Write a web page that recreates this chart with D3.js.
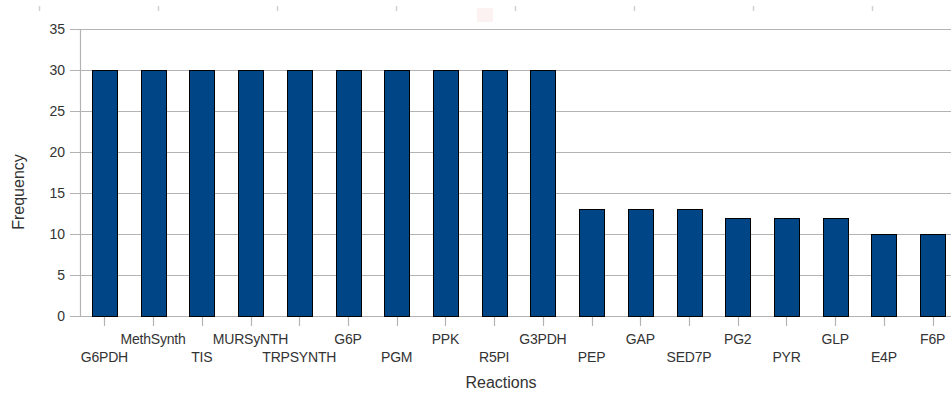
<!DOCTYPE html>
<html>
<head>
<meta charset="utf-8">
<script src="https://cdn.jsdelivr.net/npm/d3@7"></script>
<style>
  body { margin: 0; background: #fff; }
  svg { display: block; font-family: "Liberation Sans", Arial, sans-serif; }
</style>
</head>
<body>
<div id="chart"></div>
<script>
const reactions = ['G6PDH', 'MethSynth', 'TIS', 'MURSyNTH', 'TRPSYNTH', 'G6P', 'PGM', 'PPK', 'R5PI',
  'G3PDH', 'PEP', 'GAP', 'SED7P', 'PG2', 'PYR', 'GLP', 'E4P', 'F6P'];
const frequency = [30, 30, 30, 30, 30, 30, 30, 30, 30, 30, 13, 13, 13, 12, 12, 12, 10, 10];
const yTicks = [0, 5, 10, 15, 20, 25, 30, 35];

const width = 951;
const height = 394;
const margin = { top: 29, right: -6, bottom: 78, left: 80 };

const svg = d3.select('#chart')
  .append('svg')
  .attr('width', width)
  .attr('height', height);

// faint ruler marks along the top edge
svg.append('g')
  .selectAll('line')
  .data(d3.range(8))
  .enter()
  .append('line')
  .attr('x1', (d) => 39.5 + d * 119)
  .attr('x2', (d) => 39.5 + d * 119)
  .attr('y1', 6)
  .attr('y2', 11)
  .attr('stroke', '#d0d0d0')
  .attr('stroke-width', 1.5);

svg.append('rect')
  .attr('x', 477).attr('y', 8)
  .attr('width', 16).attr('height', 14)
  .attr('fill', '#fdf2f2');

const x = d3.scaleBand()
  .domain(reactions)
  .range([margin.left, width - margin.right])
  .paddingInner(0.49)
  .paddingOuter(0.245);

const y = d3.scaleLinear()
  .domain([0, 35])
  .range([height - margin.bottom, margin.top]);

// horizontal grid + y ticks
svg.append('g')
  .selectAll('line')
  .data(yTicks)
  .enter()
  .append('line')
  .attr('x1', margin.left - 10)
  .attr('x2', width)
  .attr('y1', (d) => Math.round(y(d)) + 0.5)
  .attr('y2', (d) => Math.round(y(d)) + 0.5)
  .attr('stroke', '#b3b3b3')
  .attr('stroke-width', 1.2);

svg.append('line')
  .attr('x1', margin.left + 0.5)
  .attr('x2', margin.left + 0.5)
  .attr('y1', y(35))
  .attr('y2', y(0))
  .attr('stroke', '#b3b3b3')
  .attr('stroke-width', 1.2);

svg.append('g')
  .selectAll('text')
  .data(yTicks)
  .enter()
  .append('text')
  .attr('x', 65)
  .attr('y', (d) => y(d) + 5)
  .attr('text-anchor', 'end')
  .attr('font-size', 14)
  .attr('fill', '#333')
  .text((d) => d);

// x ticks
svg.append('g')
  .selectAll('line')
  .data(reactions)
  .enter()
  .append('line')
  .attr('x1', (d) => Math.round(x(d) + x.bandwidth() / 2) + 0.5)
  .attr('x2', (d) => Math.round(x(d) + x.bandwidth() / 2) + 0.5)
  .attr('y1', y(0))
  .attr('y2', y(0) + 10)
  .attr('stroke', '#b3b3b3')
  .attr('stroke-width', 1.2);

// bars
svg.append('g')
  .selectAll('rect')
  .data(reactions)
  .enter()
  .append('rect')
  .attr('x', (d) => Math.round(x(d)) + 0.5)
  .attr('y', (d, i) => Math.round(y(frequency[i])) + 0.5)
  .attr('width', Math.round(x.bandwidth()))
  .attr('height', (d, i) => Math.round(y(0)) - Math.round(y(frequency[i])))
  .attr('fill', '#004586')
  .attr('stroke', '#000')
  .attr('stroke-width', 1);

// staggered category labels
svg.append('g')
  .selectAll('text')
  .data(reactions)
  .enter()
  .append('text')
  .attr('x', (d) => x(d) + x.bandwidth() / 2)
  .attr('y', (d, i) => (i % 2 === 0 ? 362 : 344))
  .attr('text-anchor', 'middle')
  .attr('font-size', 14)
  .attr('letter-spacing', '-0.2px')
  .attr('fill', '#333')
  .text((d) => d);

svg.append('text')
  .attr('x', 501)
  .attr('y', 388)
  .attr('text-anchor', 'middle')
  .attr('font-size', 16)
  .attr('fill', '#333')
  .text('Reactions');

svg.append('text')
  .attr('transform', 'translate(24,192) rotate(-90)')
  .attr('text-anchor', 'middle')
  .attr('font-size', 16)
  .attr('fill', '#333')
  .text('Frequency');
</script>
</body>
</html>
